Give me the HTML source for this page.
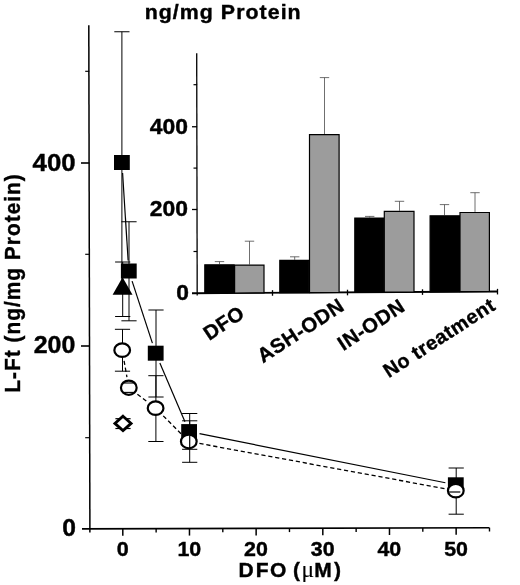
<!DOCTYPE html>
<html lang="en"><head><meta charset="utf-8"><title>L-Ft vs DFO</title>
<style>html,body{margin:0;padding:0;background:#fff}svg{display:block}text{font-family:"Liberation Sans", sans-serif;font-weight:bold;fill:#000;stroke:#000;stroke-width:0.4px}</style></head><body>
<svg width="520" height="585" viewBox="0 0 520 585">
<rect width="520" height="585" fill="#fff"/>
<line x1="88.80" y1="25.30" x2="89.90" y2="532.60" stroke="#000" stroke-width="1.50" />
<line x1="82.00" y1="528.90" x2="489.40" y2="527.70" stroke="#000" stroke-width="1.60" />
<line x1="81.00" y1="163.00" x2="89.30" y2="163.00" stroke="#000" stroke-width="1.60" />
<line x1="81.00" y1="346.00" x2="89.30" y2="346.00" stroke="#000" stroke-width="1.60" />
<line x1="85.20" y1="71.30" x2="89.30" y2="71.30" stroke="#000" stroke-width="1.15" />
<line x1="85.20" y1="254.30" x2="89.30" y2="254.30" stroke="#000" stroke-width="1.15" />
<line x1="85.20" y1="437.70" x2="89.30" y2="437.70" stroke="#000" stroke-width="1.15" />
<line x1="122.80" y1="528.78" x2="122.80" y2="535.78" stroke="#000" stroke-width="1.50" />
<line x1="189.47" y1="528.58" x2="189.47" y2="535.58" stroke="#000" stroke-width="1.50" />
<line x1="256.14" y1="528.39" x2="256.14" y2="535.39" stroke="#000" stroke-width="1.50" />
<line x1="322.81" y1="528.19" x2="322.81" y2="535.19" stroke="#000" stroke-width="1.50" />
<line x1="389.48" y1="527.99" x2="389.48" y2="534.99" stroke="#000" stroke-width="1.50" />
<line x1="456.15" y1="527.80" x2="456.15" y2="534.80" stroke="#000" stroke-width="1.50" />
<line x1="156.13" y1="528.68" x2="156.13" y2="532.48" stroke="#000" stroke-width="1.40" />
<line x1="222.81" y1="528.49" x2="222.81" y2="532.29" stroke="#000" stroke-width="1.40" />
<line x1="289.47" y1="528.29" x2="289.47" y2="532.09" stroke="#000" stroke-width="1.40" />
<line x1="356.14" y1="528.09" x2="356.14" y2="531.89" stroke="#000" stroke-width="1.40" />
<line x1="422.81" y1="527.90" x2="422.81" y2="531.70" stroke="#000" stroke-width="1.40" />
<line x1="489.49" y1="527.70" x2="489.49" y2="531.50" stroke="#000" stroke-width="1.40" />
<text x="32.60" y="170.70" font-size="23.60" text-anchor="start" textLength="43.0" lengthAdjust="spacingAndGlyphs" >400</text>
<text x="33.70" y="353.30" font-size="23.60" text-anchor="start" textLength="41.6" lengthAdjust="spacingAndGlyphs" >200</text>
<text x="62.30" y="536.10" font-size="23.60" text-anchor="start" textLength="13.7" lengthAdjust="spacingAndGlyphs" >0</text>
<text x="116.70" y="555.90" font-size="20.40" text-anchor="start" textLength="12.0" lengthAdjust="spacingAndGlyphs" >0</text>
<text x="177.47" y="555.90" font-size="20.40" text-anchor="start" textLength="23.8" lengthAdjust="spacingAndGlyphs" >10</text>
<text x="244.14" y="555.90" font-size="20.40" text-anchor="start" textLength="23.8" lengthAdjust="spacingAndGlyphs" >20</text>
<text x="310.81" y="555.90" font-size="20.40" text-anchor="start" textLength="23.8" lengthAdjust="spacingAndGlyphs" >30</text>
<text x="377.48" y="555.90" font-size="20.40" text-anchor="start" textLength="23.8" lengthAdjust="spacingAndGlyphs" >40</text>
<text x="444.15" y="555.90" font-size="20.40" text-anchor="start" textLength="23.8" lengthAdjust="spacingAndGlyphs" >50</text>
<text x="144.70" y="18.60" font-size="20.40" text-anchor="start" textLength="157.0" lengthAdjust="spacingAndGlyphs" letter-spacing="1">ng/mg Protein</text>
<text y="577.4" font-size="21"><tspan x="238.5 255.8 269.9 287 293.1">DFO (</tspan><tspan x="301.4" font-family="'Liberation Serif',serif" font-weight="normal" stroke-width="0.15" font-size="23.5">&#956;</tspan><tspan x="314.3 334.1">M)</tspan></text>
<text transform="translate(20.4,392.8) rotate(-90)" font-size="21.8" letter-spacing="1.1" textLength="219.6" lengthAdjust="spacingAndGlyphs">L-Ft (ng/mg Protein)</text>
<line x1="122.57" y1="173.08" x2="128.13" y2="260.42" stroke="#000" stroke-width="1.20" />
<line x1="132.10" y1="281.07" x2="152.40" y2="343.13" stroke="#000" stroke-width="1.20" />
<line x1="159.85" y1="362.95" x2="184.95" y2="421.85" stroke="#000" stroke-width="1.20" />
<line x1="199.50" y1="433.67" x2="445.40" y2="482.73" stroke="#000" stroke-width="1.20" />
<line x1="124.07" y1="360.84" x2="126.93" y2="377.06" stroke="#000" stroke-width="1.30" stroke-dasharray="4.2,2.8"/>
<line x1="137.38" y1="394.26" x2="147.02" y2="401.64" stroke="#000" stroke-width="1.30" stroke-dasharray="4.2,2.8"/>
<line x1="163.23" y1="415.85" x2="181.17" y2="433.85" stroke="#000" stroke-width="1.30" stroke-dasharray="4.2,2.8"/>
<line x1="199.42" y1="443.46" x2="445.18" y2="488.74" stroke="#000" stroke-width="1.30" stroke-dasharray="4.2,2.8"/>
<line x1="121.90" y1="31.75" x2="121.90" y2="292.50" stroke="#000" stroke-width="1.00" />
<line x1="114.30" y1="31.75" x2="129.50" y2="31.75" stroke="#000" stroke-width="1.00" />
<line x1="114.30" y1="292.50" x2="129.50" y2="292.50" stroke="#000" stroke-width="1.00" />
<line x1="129.00" y1="221.75" x2="129.00" y2="320.80" stroke="#000" stroke-width="1.00" />
<line x1="121.40" y1="221.75" x2="136.60" y2="221.75" stroke="#000" stroke-width="1.00" />
<line x1="121.40" y1="320.80" x2="136.60" y2="320.80" stroke="#000" stroke-width="1.00" />
<line x1="122.70" y1="262.00" x2="122.70" y2="316.50" stroke="#000" stroke-width="1.00" />
<line x1="115.10" y1="262.00" x2="130.30" y2="262.00" stroke="#000" stroke-width="1.00" />
<line x1="115.10" y1="316.50" x2="130.30" y2="316.50" stroke="#000" stroke-width="1.00" />
<line x1="156.00" y1="310.00" x2="156.00" y2="397.00" stroke="#000" stroke-width="1.00" />
<line x1="148.40" y1="310.00" x2="163.60" y2="310.00" stroke="#000" stroke-width="1.00" />
<line x1="148.40" y1="397.00" x2="163.60" y2="397.00" stroke="#000" stroke-width="1.00" />
<line x1="122.50" y1="329.30" x2="122.50" y2="371.20" stroke="#000" stroke-width="1.00" />
<line x1="114.90" y1="329.30" x2="130.10" y2="329.30" stroke="#000" stroke-width="1.00" />
<line x1="114.90" y1="371.20" x2="130.10" y2="371.20" stroke="#000" stroke-width="1.00" />
<line x1="155.90" y1="375.70" x2="155.90" y2="441.50" stroke="#000" stroke-width="1.00" />
<line x1="148.30" y1="375.70" x2="163.50" y2="375.70" stroke="#000" stroke-width="1.00" />
<line x1="148.30" y1="441.50" x2="163.50" y2="441.50" stroke="#000" stroke-width="1.00" />
<line x1="189.70" y1="413.50" x2="189.70" y2="449.30" stroke="#000" stroke-width="1.00" />
<line x1="182.10" y1="413.50" x2="197.30" y2="413.50" stroke="#000" stroke-width="1.00" />
<line x1="182.10" y1="449.30" x2="197.30" y2="449.30" stroke="#000" stroke-width="1.00" />
<line x1="189.70" y1="420.80" x2="189.70" y2="462.30" stroke="#000" stroke-width="1.00" />
<line x1="182.10" y1="420.80" x2="197.30" y2="420.80" stroke="#000" stroke-width="1.00" />
<line x1="182.10" y1="462.30" x2="197.30" y2="462.30" stroke="#000" stroke-width="1.00" />
<line x1="456.20" y1="468.00" x2="456.20" y2="514.20" stroke="#000" stroke-width="1.00" />
<line x1="448.60" y1="468.00" x2="463.80" y2="468.00" stroke="#000" stroke-width="1.00" />
<line x1="448.60" y1="514.20" x2="463.80" y2="514.20" stroke="#000" stroke-width="1.00" />
<rect x="114.00" y="155.00" width="15.8" height="15" fill="#000"/>
<rect x="120.90" y="263.50" width="15.8" height="15" fill="#000"/>
<rect x="147.80" y="345.70" width="15.8" height="15" fill="#000"/>
<rect x="181.20" y="424.10" width="15.8" height="15" fill="#000"/>
<rect x="447.90" y="477.30" width="15.8" height="15" fill="#000"/>
<polygon points="122.6,277.3 112.6,294.8 132.5,294.8" fill="#000"/>
<ellipse cx="122.20" cy="350.20" rx="7.85" ry="6.75" fill="#fff" stroke="#000" stroke-width="2.2"/>
<ellipse cx="128.80" cy="387.70" rx="7.85" ry="7.10" fill="#fff" stroke="#000" stroke-width="2.2"/>
<ellipse cx="155.60" cy="408.20" rx="7.85" ry="6.75" fill="#fff" stroke="#000" stroke-width="2.2"/>
<ellipse cx="188.80" cy="441.50" rx="7.85" ry="6.75" fill="#fff" stroke="#000" stroke-width="2.2"/>
<ellipse cx="455.80" cy="490.70" rx="7.85" ry="6.75" fill="#fff" stroke="#000" stroke-width="2.2"/>
<line x1="189.70" y1="435.50" x2="189.70" y2="449.30" stroke="#000" stroke-width="1.20" />
<line x1="449.20" y1="492.00" x2="460.30" y2="492.00" stroke="#000" stroke-width="1.20" />
<line x1="123.50" y1="383.00" x2="134.00" y2="383.00" stroke="#000" stroke-width="1.10" />
<line x1="123.50" y1="392.40" x2="134.00" y2="392.40" stroke="#000" stroke-width="1.10" />
<line x1="115.40" y1="418.70" x2="130.60" y2="418.70" stroke="#000" stroke-width="1.20" />
<line x1="115.40" y1="428.50" x2="130.60" y2="428.50" stroke="#000" stroke-width="1.20" />
<polygon points="123.0,416.2 131.1,423.4 123.0,430.6 114.9,423.4" fill="#fff" stroke="#000" stroke-width="2.8" stroke-linejoin="miter"/>
<line x1="196.70" y1="53.20" x2="197.20" y2="295.60" stroke="#000" stroke-width="1.30" />
<line x1="192.00" y1="293.23" x2="497.90" y2="291.44" stroke="#000" stroke-width="1.90" />
<line x1="192.00" y1="126.75" x2="197.10" y2="126.75" stroke="#000" stroke-width="1.30" />
<line x1="192.00" y1="209.50" x2="197.10" y2="209.50" stroke="#000" stroke-width="1.30" />
<line x1="193.50" y1="84.70" x2="197.10" y2="84.70" stroke="#000" stroke-width="1.20" />
<line x1="193.50" y1="168.10" x2="197.10" y2="168.10" stroke="#000" stroke-width="1.20" />
<line x1="193.50" y1="251.50" x2="197.10" y2="251.50" stroke="#000" stroke-width="1.20" />
<line x1="272.50" y1="290.16" x2="272.50" y2="295.76" stroke="#000" stroke-width="1.30" />
<line x1="347.50" y1="289.72" x2="347.50" y2="295.32" stroke="#000" stroke-width="1.30" />
<line x1="422.50" y1="289.28" x2="422.50" y2="294.88" stroke="#000" stroke-width="1.30" />
<line x1="497.50" y1="288.85" x2="497.50" y2="294.45" stroke="#000" stroke-width="1.30" />
<text x="149.80" y="133.50" font-size="21.20" text-anchor="start" textLength="38.2" lengthAdjust="spacingAndGlyphs" >400</text>
<text x="149.80" y="216.40" font-size="21.20" text-anchor="start" textLength="38.2" lengthAdjust="spacingAndGlyphs" >200</text>
<text x="176.20" y="300.20" font-size="21.20" text-anchor="start" textLength="12.7" lengthAdjust="spacingAndGlyphs" >0</text>
<path d="M219.50 264.20V261.60M214.80 261.60H224.20" stroke="#4a4a4a" stroke-width="0.8" fill="none"/>
<polygon points="204.80,264.80 234.00,264.80 234.00,292.98 204.80,293.16" fill="#000" stroke="#000" stroke-width="1.2"/>
<path d="M249.50 264.50V241.20M244.80 241.20H254.20" stroke="#4a4a4a" stroke-width="0.8" fill="none"/>
<polygon points="234.60,265.10 264.00,265.10 264.00,292.81 234.60,292.98" fill="#9c9c9c" stroke="#000" stroke-width="1.2"/>
<path d="M294.70 259.80V256.80M290.00 256.80H299.40" stroke="#4a4a4a" stroke-width="0.8" fill="none"/>
<polygon points="279.80,260.40 308.90,260.40 308.90,292.54 279.80,292.72" fill="#000" stroke="#000" stroke-width="1.2"/>
<path d="M324.50 134.00V77.60M319.80 77.60H329.20" stroke="#4a4a4a" stroke-width="0.8" fill="none"/>
<polygon points="309.50,134.60 339.10,134.60 339.10,292.37 309.50,292.55" fill="#9c9c9c" stroke="#000" stroke-width="1.2"/>
<path d="M369.70 217.50V216.40M365.00 216.40H374.40" stroke="#4a4a4a" stroke-width="0.8" fill="none"/>
<polygon points="354.80,218.10 383.70,218.10 383.70,292.11 354.80,292.28" fill="#000" stroke="#000" stroke-width="1.2"/>
<path d="M399.50 210.75V201.30M394.80 201.30H404.20" stroke="#4a4a4a" stroke-width="0.8" fill="none"/>
<polygon points="384.30,211.35 414.00,211.35 414.00,291.93 384.30,292.11" fill="#9c9c9c" stroke="#000" stroke-width="1.2"/>
<path d="M444.50 215.25V204.60M439.80 204.60H449.20" stroke="#4a4a4a" stroke-width="0.8" fill="none"/>
<polygon points="430.10,215.85 459.40,215.85 459.40,291.67 430.10,291.84" fill="#000" stroke="#000" stroke-width="1.2"/>
<path d="M475.00 211.90V192.70M470.30 192.70H479.70" stroke="#4a4a4a" stroke-width="0.8" fill="none"/>
<polygon points="460.00,212.50 489.40,212.50 489.40,291.49 460.00,291.67" fill="#9c9c9c" stroke="#000" stroke-width="1.2"/>
<text transform="translate(209.2,341.0) rotate(-33.6)" font-size="20.3" letter-spacing="0.50" stroke="#000" stroke-width="0.5">DFO</text>
<text transform="translate(263.0,363.4) rotate(-33.2)" font-size="20.4" letter-spacing="0.55" stroke="#000" stroke-width="0.5">ASH-ODN</text>
<text transform="translate(343.2,351.2) rotate(-33.2)" font-size="20.3" letter-spacing="0.60" stroke="#000" stroke-width="0.5">IN-ODN</text>
<text transform="translate(388.8,378.3) rotate(-32.8)" font-size="19.8" letter-spacing="0.55" stroke="#000" stroke-width="0.5">No treatment</text>
</svg></body></html>
